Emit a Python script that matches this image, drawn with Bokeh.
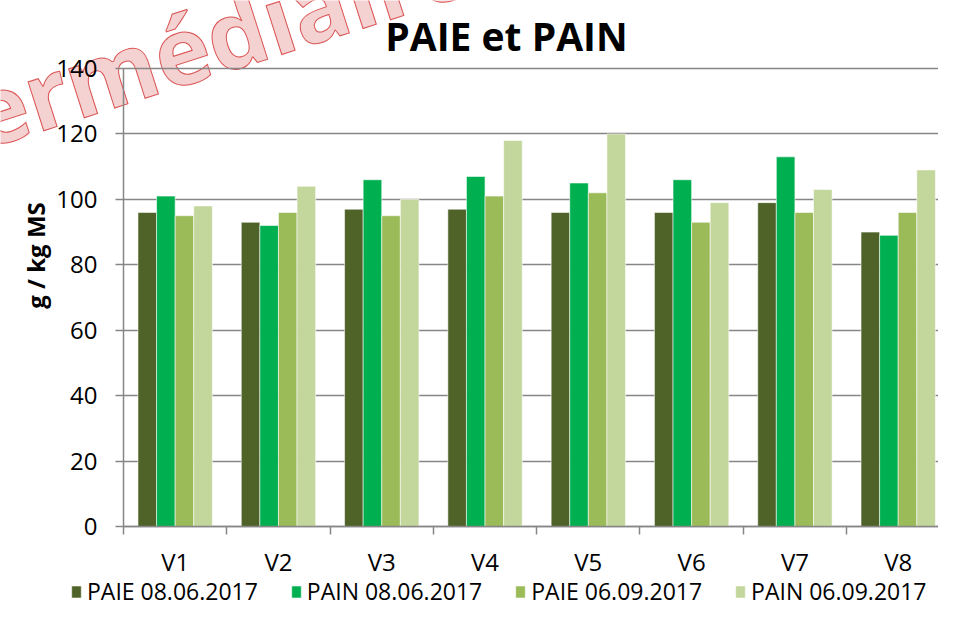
import math
from bokeh.plotting import figure
from bokeh.models import (ColumnDataSource, FixedTicker, Range1d, Legend, LegendItem, Label)
from bokeh.embed import file_html
from bokeh.resources import INLINE

# ---- data ----
categories = ["V1", "V2", "V3", "V4", "V5", "V6", "V7", "V8"]
series_names = ["PAIE 08.06.2017", "PAIN 08.06.2017", "PAIE 06.09.2017", "PAIN 06.09.2017"]
paie_0806 = [96, 93, 97, 97, 96, 96, 99, 90]
pain_0806 = [101, 92, 106, 107, 105, 106, 113, 89]
paie_0609 = [95, 96, 95, 101, 102, 93, 96, 96]
pain_0609 = [98, 104, 100, 118, 120, 99, 103, 109]
y_ticks = [0, 20, 40, 60, 80, 100, 120, 140]

series_values = [paie_0806, pain_0806, paie_0609, pain_0609]
colors = ["#4F6228", "#00B050", "#9BBB59", "#C3D69B"]

FONT = "Open Sans"
W, H = 938, 607
X0, X1 = 0.5, 8.39      # visible category span
Y0, Y1 = 0, 140         # value axis span

# frame covers the whole canvas; axes are pinned inside it
p = figure(width=W, height=H, output_backend="svg", toolbar_location=None,
           x_range=Range1d(-0.691, X1), y_range=Range1d(-24.76, 160.79),
           min_border=0)
p.outline_line_color = None
p.background_fill_color = "white"
p.border_fill_color = "white"

pos = list(range(1, len(categories) + 1))
bw = 0.18
offsets = [-1.5 * bw, -0.5 * bw, 0.5 * bw, 1.5 * bw]
renderers = []
for vals, col, off in zip(series_values, colors, offsets):
    src = ColumnDataSource(dict(x=[x + off for x in pos], top=vals))
    r = p.vbar(x="x", top="top", width=bw, bottom=0, source=src,
               fill_color=col, line_color="white", line_width=0.8, line_alpha=0.7)
    renderers.append(r)

grey = "#868686"
p.ygrid.ticker = FixedTicker(ticks=y_ticks)
p.ygrid.grid_line_color = grey
p.ygrid.grid_line_width = 1.5
p.ygrid.cross_bounds = (X0, X1)
p.xgrid.grid_line_color = None

ya = p.yaxis[0]
ya.fixed_location = X0
ya.bounds = (Y0, Y1)
ya.ticker = FixedTicker(ticks=y_ticks)
ya.axis_line_color = grey
ya.axis_line_width = 1.5
ya.major_tick_line_color = grey
ya.major_tick_line_width = 1.5
ya.major_tick_out = 8
ya.major_tick_in = 0
ya.minor_tick_line_color = None
ya.major_label_standoff = 18
ya.major_label_text_font = FONT
ya.major_label_text_font_size = "24px"
ya.major_label_text_color = "black"

xa = p.xaxis[0]
xa.fixed_location = Y0
xa.bounds = (X0, X1)
xa.ticker = FixedTicker(ticks=pos, minor_ticks=[x - 0.5 for x in pos] + [len(pos) + 0.5])
xa.major_label_overrides = {x: c for x, c in zip(pos, categories)}
xa.axis_line_color = grey
xa.axis_line_width = 1.5
xa.major_tick_out = 0
xa.major_tick_in = 0
xa.minor_tick_line_color = grey
xa.minor_tick_line_width = 1.5
xa.minor_tick_out = 8
xa.minor_tick_in = 0
xa.major_label_standoff = 10
xa.major_label_text_font = FONT
xa.major_label_text_font_size = "24px"
xa.major_label_text_color = "black"

# y axis title (positioned like the reference, above the axis middle)
ylab = Label(x=35, y=352, x_units="screen", y_units="screen", text="g / kg MS",
             text_font=FONT, text_font_style="bold", text_font_size="24px",
             text_align="center", text_baseline="middle", text_color="black",
             angle=math.pi / 2)
p.add_layout(ylab)

# title (screen units, origin at bottom-left of the canvas-wide frame)
title = Label(x=506, y=572, x_units="screen", y_units="screen", text="PAIE et PAIN",
              text_font=FONT, text_font_style="bold", text_font_size="39px",
              text_align="center", text_baseline="middle", text_color="black")
p.add_layout(title)

# watermark (partly outside the canvas, as in the reference)
wm = Label(x=-155, y=451, x_units="screen", y_units="screen", text="Intermédiaire",
           text_font=FONT, text_font_style="bold", text_font_size="94px", angle=0.31,
           text_align="left", text_baseline="alphabetic",
           text_color="#F3CACA", text_alpha=0.85,
           text_outline_color="#D63A3A", level="image")
p.add_layout(wm)

legend = Legend(items=[LegendItem(label=n, renderers=[r]) for n, r in zip(series_names, renderers)],
                orientation="horizontal", location=(70, 0),
                glyph_width=12, glyph_height=15, label_standoff=5, spacing=32,
                padding=0, margin=0, border_line_color=None, background_fill_alpha=0,
                label_text_font=FONT, label_text_font_size="23px", label_text_color="black")
p.add_layout(legend, "center")

open("out.html", "w").write(file_html(p, INLINE))
